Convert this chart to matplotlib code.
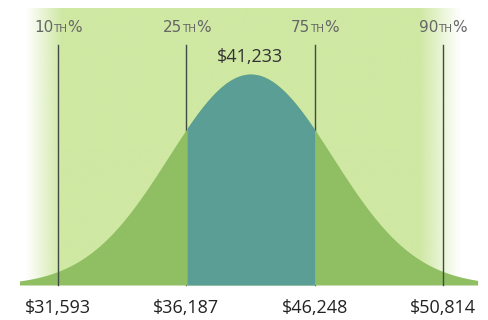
import numpy as np
import matplotlib
matplotlib.use('Agg')
import matplotlib.pyplot as plt
from matplotlib.offsetbox import TextArea, HPacker, AnnotationBbox

# percentile markers (evenly spaced in the schematic), and their salary values
pct_labels = ['10', '25', '75', '90']
pct_values = ['$31,593', '$36,187', '$46,248', '$50,814']
pct_pos = [0, 1, 2, 3]
median_label = '$41,233'
median_pos = 1.5
spread = 0.64          # width of the bell, in marker spacings
curve_range = (-0.30, 3.27)

BG = '#cfe8a3'
OLIVE = '#8fbf62'
TEAL = '#5b9e96'
LINE = '#3f4a44'

fig = plt.figure(figsize=(4.88, 3.2), dpi=100)
ax = fig.add_axes([0, 0, 1, 1])
ax.set_xlim(-0.452, 3.351)
ax.set_ylim(-0.166, 1.351)
ax.axis('off')

# light green backdrop fading to white at the sides
gx = np.linspace(-0.452, 3.351, 500)
alpha = np.clip(np.minimum((gx + 0.25) / 0.28, (3.14 - gx) / 0.32), 0, 1)
img = np.zeros((1, len(gx), 4))
img[..., :3] = matplotlib.colors.to_rgb(BG)
img[..., 3] = alpha
ax.imshow(img, extent=(-0.452, 3.351, 0, 1.313), aspect='auto', zorder=0,
          interpolation='bilinear')

# bell curve
x = np.linspace(*curve_range, 400)
y = np.exp(-(x - median_pos) ** 2 / (2 * spread ** 2))
ax.fill_between(x, 0, y, color=OLIVE, lw=0, zorder=2)
inner = (x >= pct_pos[1]) & (x <= pct_pos[2])
ax.fill_between(x, 0, y, where=inner, color=TEAL, lw=0, zorder=2)

for i, (p, lab, val) in enumerate(zip(pct_pos, pct_labels, pct_values)):
    ax.plot([p, p], [0, 1.137], color=LINE, lw=1.0,
            zorder=3 if i in (0, 3) else 1)
    box = HPacker(children=[
        TextArea(lab, textprops=dict(size=11, color='#666666', family='Liberation Sans Narrow')),
        TextArea('TH', textprops=dict(size=7.5, color='#666666', family='Liberation Sans Narrow')),
        TextArea('%', textprops=dict(size=11, color='#666666', family='Liberation Sans Narrow')),
    ], align='baseline', pad=0, sep=0)
    ax.add_artist(AnnotationBbox(box, (p, 1.223), frameon=False, pad=0,
                                 box_alignment=(0.5, 0.5)))
    ax.text(p, -0.109, val, ha='center', va='center', fontsize=13,
            color='#222222', family='Open Sans')

ax.text(median_pos, 1.08, median_label, ha='center', va='center',
        fontsize=13, color='#333333', family='Open Sans')

fig.savefig('out.png', dpi=100)
